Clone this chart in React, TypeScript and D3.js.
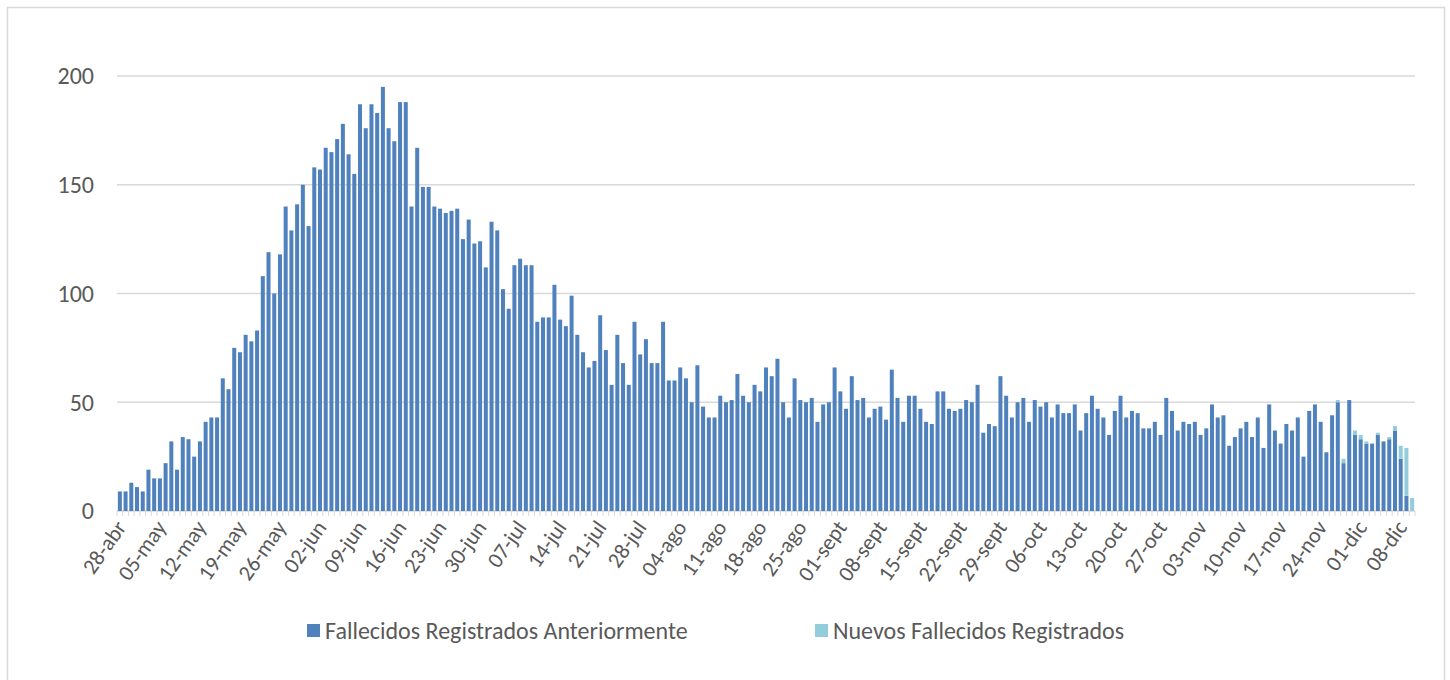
import React from 'react';
import * as d3 from 'd3';

// deaths already registered (dark) per day, 28-abr .. 10-dic
const previous = [
  9, 9, 13, 11, 9, 19, 15, 15, 22, 32, 19, 34, 33, 25, 32, 41, 43, 43, 61, 56,
  75, 73, 81, 78, 83, 108, 119, 100, 118, 140, 129, 141, 150, 131, 158, 157, 167, 165, 171, 178,
  164, 155, 187, 176, 187, 183, 195, 176, 170, 188, 188, 140, 167, 149, 149, 140, 139, 137, 138, 139,
  125, 134, 123, 124, 112, 133, 129, 102, 93, 113, 116, 113, 113, 87, 89, 89, 104, 88, 85, 99,
  81, 73, 66, 69, 90, 74, 58, 81, 68, 58, 87, 72, 79, 68, 68, 87, 60, 60, 66, 61,
  50, 67, 48, 43, 43, 53, 50, 51, 63, 53, 50, 58, 55, 66, 62, 70, 50, 43, 61, 51,
  50, 52, 41, 49, 50, 66, 55, 47, 62, 51, 52, 43, 47, 48, 42, 65, 52, 41, 53, 53,
  47, 41, 40, 55, 55, 47, 46, 47, 51, 50, 58, 36, 40, 39, 62, 53, 43, 50, 52, 41,
  51, 48, 50, 43, 49, 45, 45, 49, 37, 45, 53, 47, 43, 35, 46, 53, 43, 46, 45, 38,
  38, 41, 35, 52, 46, 37, 41, 40, 41, 35, 38, 49, 43, 44, 30, 34, 38, 41, 34, 43,
  29, 49, 37, 31, 40, 37, 43, 25, 46, 49, 41, 27, 44, 50, 22, 51, 35, 33, 31, 31,
  35, 32, 33, 37, 24, 7, 0
];

// newly registered deaths (light) for the last days
const newOnes = [
  ...new Array(213).fill(0),
  1, 2, 0, 2, 2, 1, 0, 1, 0, 1, 2, 6, 22, 6
];

const tickLabels = [
  '28-abr', '05-may', '12-may', '19-may', '26-may', '02-jun', '09-jun', '16-jun', '23-jun',
  '30-jun', '07-jul', '14-jul', '21-jul', '28-jul', '04-ago', '11-ago', '18-ago', '25-ago',
  '01-sept', '08-sept', '15-sept', '22-sept', '29-sept', '06-oct', '13-oct', '20-oct', '27-oct',
  '03-nov', '10-nov', '17-nov', '24-nov', '01-dic', '08-dic'
];

const seriesNames = ['Fallecidos Registrados Anteriormente', 'Nuevos Fallecidos Registrados'];
const colors = ['#4F81BD', '#92CDDC'];
const yTicks = [0, 50, 100, 150, 200];

const font = "Calibri, Carlito, 'Open Sans', sans-serif";

export default function App() {
  const width = 1450, height = 680;
  const left = 117, right = 1415, top = 76, bottom = 511;

  const rows = previous.map((v, i) => ({ idx: i, previous: v, newOnes: newOnes[i] }));
  const x = d3.scaleBand<number>()
    .domain(rows.map(d => d.idx))
    .range([left, right])
    .paddingInner(0.3)
    .paddingOuter(0.15);
  const y = d3.scaleLinear().domain([0, 200]).range([bottom, top]);
  const stacked = d3.stack<any>().keys(['previous', 'newOnes'])(rows);
  const step = x.step();

  return (
    <svg width={width} height={height} style={{ position: 'absolute', left: 0, top: 0, background: '#fff' }}>
      <rect x={7.5} y={7.5} width={1437} height={700} fill="#fff" stroke="#D9D9D9" strokeWidth={1.5} />

      {/* gridlines */}
      {yTicks.map(t => (
        <line key={t} x1={left} x2={right} y1={y(t)} y2={y(t)} stroke="#D9D9D9" strokeWidth={1.3} />
      ))}
      {yTicks.map(t => (
        <text key={'l' + t} x={94} y={y(t)} dy="0.35em" textAnchor="end" fontFamily={font}
          fontSize={24} fill="#595959">{t}</text>
      ))}

      {/* bars */}
      {stacked.map((layer, li) => (
        <g key={li} fill={colors[li]}>
          {layer.map((d, i) => d[1] > d[0] ? (
            <rect key={i} x={x(i)} width={x.bandwidth()} y={y(d[1])} height={y(d[0]) - y(d[1])} />
          ) : null)}
        </g>
      ))}

      {/* category ticks */}
      {d3.range(previous.length + 1).map(i => (
        <line key={'t' + i} x1={left + i * step} x2={left + i * step} y1={bottom} y2={bottom + 5}
          stroke="#D9D9D9" strokeWidth={1} />
      ))}

      {tickLabels.map((lab, k) => {
        const cx = (x(k * 7) as number) + x.bandwidth() / 2;
        return (
          <text key={lab} transform={`translate(${cx + 1},${bottom + 12}) rotate(-55)`}
            textAnchor="end" dy="0.35em" fontFamily={font} fontSize={22} fill="#595959">{lab}</text>
        );
      })}

      {/* legend */}
      {seriesNames.map((name, i) => {
        const lx = i === 0 ? 307 : 815;
        return (
          <g key={name}>
            <rect x={lx} y={624} width={13} height={13} fill={colors[i]} />
            <text x={lx + 18} y={631} dy="0.35em" fontFamily={font} fontSize={24} fill="#595959">{name}</text>
          </g>
        );
      })}
    </svg>
  );
}
